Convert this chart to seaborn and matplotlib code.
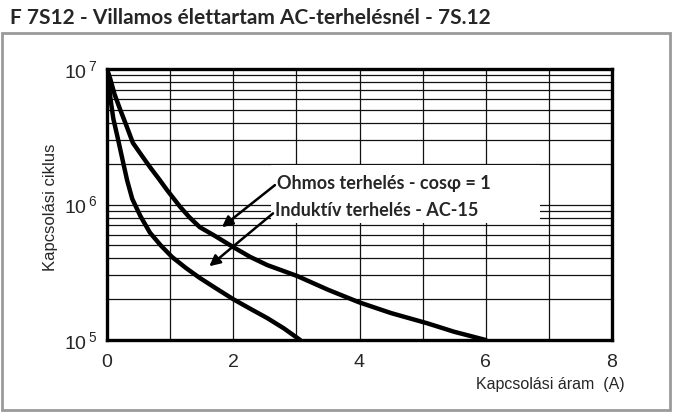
import matplotlib
matplotlib.use("Agg")
import matplotlib.pyplot as plt
from matplotlib.patches import Rectangle
from matplotlib.ticker import LogLocator, NullFormatter, MultipleLocator
import seaborn as sns

# values
ohmic_current = [0, 0.05, 0.12, 0.21, 0.3, 0.41, 0.55, 0.68, 0.82, 0.95, 1.16, 1.3, 1.47, 1.7,
                 2.0, 2.27, 2.54, 3.01, 3.5, 3.99, 4.5, 5.07, 5.5, 6.0]
ohmic_cycles = [1e7, 8.5e6, 6.5e6, 5.0e6, 3.9e6, 2.85e6, 2.3e6, 1.89e6, 1.55e6, 1.28e6, 9.6e5, 8.1e5,
                6.8e5, 5.9e5, 4.85e5, 4.1e5, 3.57e5, 2.97e5, 2.35e5, 1.9e5, 1.58e5, 1.33e5, 1.15e5, 1e5]

ind_current = [0, 0.03, 0.06, 0.1, 0.17, 0.25, 0.32, 0.4, 0.53, 0.68, 0.85, 1.03, 1.25, 1.47,
               1.73, 2.0, 2.27, 2.54, 2.8, 3.06]
ind_cycles = [1e7, 7.5e6, 5.8e6, 4.3e6, 3.1e6, 2.1e6, 1.5e6, 1.1e6, 8.2e5, 6.2e5, 5.0e5, 4.1e5,
              3.4e5, 2.87e5, 2.4e5, 2.0e5, 1.7e5, 1.45e5, 1.22e5, 1e5]

x_ticks = [0, 2, 4, 6, 8]
x_ticklabels = ["0", "2", "4", "6", "8"]
y_ticks = [1e5, 1e6, 1e7]
y_ticklabels = [r"$\mathregular{10^{\,5}}$", r"$\mathregular{10^{\,6}}$", r"$\mathregular{10^{\,7}}$"]

title = "F 7S12 - Villamos élettartam AC-terhelésnél - 7S.12"
x_label = "Kapcsolási áram  (A)"
y_label = "Kapcsolási ciklus"
label_ohm = "Ohmos terhelés - cosφ = 1"
label_ind = "Induktív terhelés - AC-15"

# annotation anchors (data coords)
ohm_text_pos = (2.69, 1.44e6)
ohm_arrow_tip = (1.82, 6.8e5)
ohm_arrow_tail = (2.66, 1.39e6)
ind_text_pos = (2.66, 9.1e5)
ind_arrow_tip = (1.62, 3.5e5)
ind_arrow_tail = (2.63, 8.6e5)

sns.set_style("white")
plt.rcParams['font.family'] = ['Liberation Sans Narrow', 'Liberation Sans', 'DejaVu Sans']
plt.rcParams['mathtext.default'] = 'regular'

fig = plt.figure(figsize=(6.8, 4.16), dpi=100)
ax = fig.add_axes([107/680, 1 - 340/416, (612 - 107)/680, (340 - 69)/416])

# grey outer frame
fig.patches.append(Rectangle((2/680, 6/416), 668/680, 377/416, transform=fig.transFigure,
                             fill=False, edgecolor='#9a9a9a', lw=2))

sns.lineplot(x=ohmic_current, y=ohmic_cycles, ax=ax, color='black', lw=3.2, sort=False, zorder=4)
sns.lineplot(x=ind_current, y=ind_cycles, ax=ax, color='black', lw=3.2, sort=False, zorder=4)

ax.set_yscale('log')
ax.set_xlim(0, 8)
ax.set_ylim(1e5, 1e7)

ax.set_xticks(x_ticks)
ax.set_xticklabels(x_ticklabels, fontsize=14)
ax.xaxis.set_minor_locator(MultipleLocator(1))
ax.set_yticks(y_ticks)
ax.set_yticklabels(y_ticklabels, fontsize=14)
ax.yaxis.set_minor_locator(LogLocator(base=10, subs=range(2, 10)))
ax.yaxis.set_minor_formatter(NullFormatter())
ax.tick_params(which='both', length=0)
ax.tick_params(axis='x', pad=10)
ax.tick_params(axis='y', pad=7)

ax.grid(True, which='both', color='#111111', lw=0.9)
ax.set_axisbelow(True)
for s in ax.spines.values():
    s.set_color('black')
    s.set_linewidth(2.4)
    s.set_zorder(5)

# white box behind the legend texts
ax.add_patch(Rectangle((2.6, 7.3e5), 4.26, 1.95e6 - 7.3e5, facecolor='white',
                       edgecolor='none', zorder=2))

ax.text(ohm_text_pos[0], ohm_text_pos[1], label_ohm, fontsize=13, fontweight='bold',
        family=['Lato', 'DejaVu Sans'], va='center', ha='left', zorder=6)
ax.text(ind_text_pos[0], ind_text_pos[1], label_ind, fontsize=13, fontweight='bold',
        family=['Lato', 'DejaVu Sans'], va='center', ha='left', zorder=6)

arrow = dict(arrowstyle='-|>', color='black', lw=1.8, mutation_scale=16, shrinkA=0, shrinkB=0)
ax.annotate('', xy=ohm_arrow_tip, xytext=ohm_arrow_tail, arrowprops=arrow, zorder=6)
ax.annotate('', xy=ind_arrow_tip, xytext=ind_arrow_tail, arrowprops=arrow, zorder=6)

fig.text(10/680, 1 - 18/416, title, fontsize=15, fontweight='bold',
         family=['Lato', 'DejaVu Sans'], ha='left', va='center')
fig.text(625/680, 1 - 385/416, x_label, fontsize=11.5, ha='right', va='center')
fig.text(50/680, 1 - 207/416, y_label, fontsize=12, rotation=90, ha='center', va='center',
         family=['Liberation Sans', 'DejaVu Sans'])

fig.savefig("out.png", dpi=100)
